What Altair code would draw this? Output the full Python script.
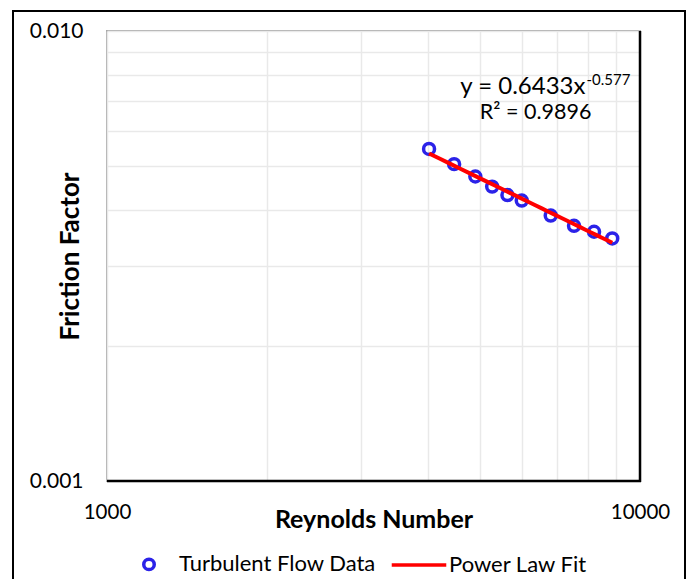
import altair as alt
import pandas as pd

# ---- data ----
reynolds = [4020, 4480, 4910, 5280, 5640, 6000, 6800, 7520, 8200, 8870]
friction = [0.00547, 0.00506, 0.00475, 0.00451, 0.00432, 0.00420,
            0.00389, 0.00369, 0.00358, 0.00346]
series_names = ["Turbulent Flow Data", "Power Law Fit"]
x_grid = [1000, 2000, 3000, 4000, 5000, 6000, 7000, 8000, 9000, 10000]
y_grid = [0.001, 0.002, 0.003, 0.004, 0.005, 0.006, 0.007, 0.008, 0.009, 0.010]
eq_main = "y = 0.6433x"
eq_exp = "-0.577"
r2_text = "R² = 0.9896"

FONT = "Lato"
W, H = 533, 450

df = pd.DataFrame({"Re": reynolds, "f": friction, "series": series_names[0]})

xscale = alt.Scale(type="log", domain=[1000, 10000], nice=False)
yscale = alt.Scale(type="log", domain=[0.001, 0.010], nice=False)

xaxis = alt.Axis(
    values=x_grid, format="d", grid=True, gridColor="#e9e9e9", gridWidth=1.5,
    ticks=False, domain=False, labelFlush=False, labelOverlap=False,
    labelExpr="(datum.value == 1000 || datum.value == 10000) ? datum.label : ''",
    labelFont=FONT, labelFontSize=20.5, labelColor="#000", labelPadding=21,
    title="Reynolds Number", titleFont=FONT, titleFontSize=25, titleFontWeight="bold",
    titleColor="#000", titleY=38, titleBaseline="middle",
)
yaxis = alt.Axis(
    values=y_grid, format=".3f", grid=True, gridColor="#e9e9e9", gridWidth=1.5,
    ticks=False, domain=False, labelFlush=False, labelOverlap=False,
    labelExpr="(datum.value < 0.00105 || datum.value > 0.0095) ? datum.label : ''",
    labelFont=FONT, labelFontSize=21, labelColor="#000", labelPadding=24,
    labelBaseline="middle",
    title="Friction Factor", titleFont=FONT, titleFontSize=26, titleFontWeight="bold",
    titleColor="#000", titleX=-37, titleBaseline="middle",
)

legend = alt.Legend(
    orient="none", legendX=31, legendY=522, direction="horizontal", title=None,
    symbolSize=110, symbolStrokeWidth=3.5, labelFont=FONT, labelFontSize=22,
    labelColor="#000", labelOffset=19, columnPadding=8, labelLimit=0,
)

points = alt.Chart(df).mark_point(filled=False, size=120, strokeWidth=3.5, opacity=1).encode(
    x=alt.X("Re:Q", scale=xscale, axis=xaxis),
    y=alt.Y("f:Q", scale=yscale, axis=yaxis),
    color=alt.Color("series:N", scale=alt.Scale(domain=series_names, range=["#2b22e8", "#ff0000"]),
                    legend=legend),
    shape=alt.Shape("series:N", scale=alt.Scale(domain=series_names, range=["circle", "M-5.2,0H5.2"]),
                    legend=legend),
)

fit = alt.Chart(df).transform_regression("Re", "f", method="pow").mark_line(
    color="#ff0000", strokeWidth=4
).encode(x=alt.X("Re:Q", scale=xscale), y=alt.Y("f:Q", scale=yscale))

ann = pd.DataFrame({
    "Re": [7900, 7900, 6370],
    "f": [0.00752, 0.00777, 0.00656],
    "txt": [eq_main, eq_exp, r2_text],
    "kind": ["main", "exp", "r2"],
})
ann_main = alt.Chart(ann).transform_filter("datum.kind == 'main'").mark_text(
    align="right", baseline="middle", font=FONT, fontSize=24, color="#000"
).encode(x=alt.X("Re:Q", scale=xscale), y=alt.Y("f:Q", scale=yscale), text="txt:N")
ann_exp = alt.Chart(ann).transform_filter("datum.kind == 'exp'").mark_text(
    align="left", baseline="middle", font=FONT, fontSize=15, color="#000", dx=1
).encode(x=alt.X("Re:Q", scale=xscale), y=alt.Y("f:Q", scale=yscale), text="txt:N")
ann_r2 = alt.Chart(ann).transform_filter("datum.kind == 'r2'").mark_text(
    align="center", baseline="middle", font=FONT, fontSize=21.5, color="#000"
).encode(x=alt.X("Re:Q", scale=xscale), y=alt.Y("f:Q", scale=yscale), text="txt:N")

one = pd.DataFrame({"k": [0]})
frame = alt.Chart(one).mark_rect(fill=None, stroke="#000", strokeWidth=2).encode(
    x=alt.value(-94), x2=alt.value(578), y=alt.value(-20), y2=alt.value(580)
)
bottom_rule = alt.Chart(one).mark_rule(color="#000", strokeWidth=2.5).encode(
    x=alt.value(0), x2=alt.value(W + 1), y=alt.value(H)
)
right_rule = alt.Chart(one).mark_rule(color="#000", strokeWidth=2.5).encode(
    x=alt.value(W), y=alt.value(0), y2=alt.value(H + 1)
)

chart = alt.layer(
    frame, points, fit, bottom_rule, right_rule, ann_main, ann_exp, ann_r2
).properties(
    width=W, height=H,
    padding={"left": 107, "top": 31, "right": 49, "bottom": 98},
    autosize=alt.AutoSizeParams(type="none"),
    background="white",
).configure_view(stroke="#a8a8a8", strokeWidth=2)

chart.save("out.html", embed_options={"renderer": "svg", "actions": False})
